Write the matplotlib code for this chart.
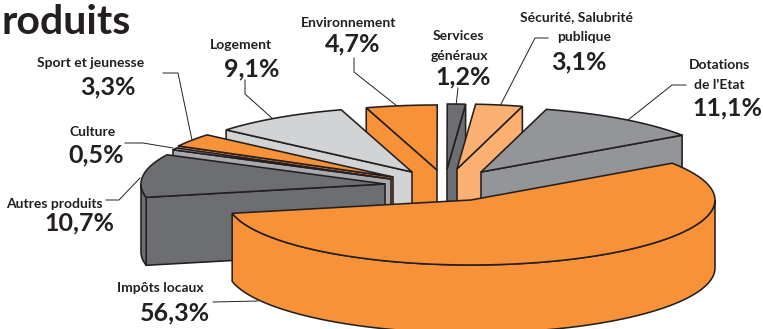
# Repartition des produits - camembert eclate en perspective

import numpy as np
import matplotlib.pyplot as plt
from matplotlib.patches import Polygon

plt.rcParams['font.family'] = ['Lato', 'DejaVu Sans']

categories = ['Dotations\nde l\'Etat', 'Sécurité, Salubrité\npublique', 'Services\ngénéraux',
              'Environnement', 'Logement', 'Sport et jeunesse', 'Culture', 'Autres produits', 'Impôts locaux']
values = [11.1, 3.1, 1.2, 4.7, 9.1, 3.3, 0.5, 10.7, 56.3]
value_labels = ['11,1%', '3,1%', '1,2%', '4,7%', '9,1%', '3,3%', '0,5%', '10,7%', '56,3%']

colors = ['#939598', '#fbb072', '#6d6e71', '#f79239', '#d1d3d4', '#f79239', '#a7a9ac', '#6d6e71', '#f79239']
edge = '#231f20'

# pie geometry, in pixels
start_angle = 34.5
rx, ry = 244, 65
depth = 68
center = (445, 176)
pull_x = [36, 12, 2, -8, -33, -52, -54, -60, 26]
pull_y = [-4, -7, -7, -6, -4, 1, 3, 8, 24]

# label centres: (x, y) of name lines then value
label_pos = [[(719, 65), (719.5, 85)], [(577, 17), (584, 37)], [(458.5, 36), (459.5, 56)],
             [(348.5, 23)], [(240.5, 45)], [(91, 63)], [(93, 132)], [(54.5, 204)], [(160, 288)]]
value_pos = [(727, 108), (579, 62), (463.5, 77), (352.5, 44), (252, 69), (107.5, 87), (96, 155), (79, 223), (175, 313)]

leaders = [[(686, 85), (672, 85), (628, 120)],
           [(548, 38), (535, 38), (500, 106)],
           [(458, 88), (456, 106)],
           [(354, 58), (354, 72), (397, 106)],
           [(245, 80), (245, 94), (273, 119)],
           [(163, 73), (178, 73), (192, 140)],
           [(125, 143), (143, 143), (173, 148)],
           [(106, 200), (119, 200), (140, 178)],
           [(213, 302), (258, 301)]]


def rim(apex, a0, a1, drop=0):
    t = np.radians(np.linspace(a0, a1, 80))
    return np.column_stack([apex[0] + rx * np.cos(t), apex[1] - ry * np.sin(t) + drop])


def draw_poly(ax, pts, color, zorder):
    ax.add_patch(Polygon(pts, closed=True, facecolor=color, edgecolor=edge, lw=1.15,
                         joinstyle='miter', zorder=zorder))


fig = plt.figure(figsize=(7.63, 3.29), dpi=100)
ax = fig.add_axes([0, 0, 1, 1])
ax.set_xlim(0, 763)
ax.set_ylim(329, 0)
ax.axis('off')

sweeps = np.array(values) / sum(values) * 360
starts = start_angle + np.concatenate([[0], np.cumsum(sweeps)[:-1]])

# back slices first, the big front slice last
order = [2, 3, 1, 0, 4, 5, 6, 7, 8]
for z, i in enumerate(order):
    a0, a1 = starts[i], starts[i] + sweeps[i]
    mid = (a0 + a1) / 2
    apex = (center[0] + pull_x[i], center[1] + pull_y[i])
    base = z * 3 + 2
    if np.sin(np.radians(mid)) > 0:
        # side face along the radial edge turned towards the viewer
        a = a0 if np.cos(np.radians(mid)) > 0 else a1
        p = rim(apex, a, a)[0]
        draw_poly(ax, [p, apex, (apex[0], apex[1] + depth), (p[0], p[1] + depth)], colors[i], base)
    # outer wall, only the part below the horizontal diameter shows
    lo, hi = max(a0, 180), min(a1, 360)
    if hi > lo:
        wall = np.vstack([rim(apex, lo, hi), rim(apex, hi, lo, depth)])
        draw_poly(ax, wall, colors[i], base + 1)
    top = np.vstack([[apex], rim(apex, a0, a1)])
    draw_poly(ax, top, colors[i], base + 2)

ax.text(2, 22, 'roduits', ha='left', va='center', fontsize=29.5, fontweight='bold', color=edge)

for names, pos, val, vpos in zip(categories, label_pos, value_labels, value_pos):
    for line, (x, y) in zip(names.split('\n'), pos):
        ax.text(x, y, line, ha='center', va='center', fontsize=10, fontweight='bold', color=edge)
    ax.text(vpos[0], vpos[1], val, ha='center', va='center', fontsize=18, fontweight='bold', color=edge)

for pts in leaders:
    xs, ys = zip(*pts)
    ax.plot(xs, ys, color=edge, lw=0.7, zorder=1, solid_joinstyle='miter')

fig.savefig('out.png', dpi=100, facecolor='white')
